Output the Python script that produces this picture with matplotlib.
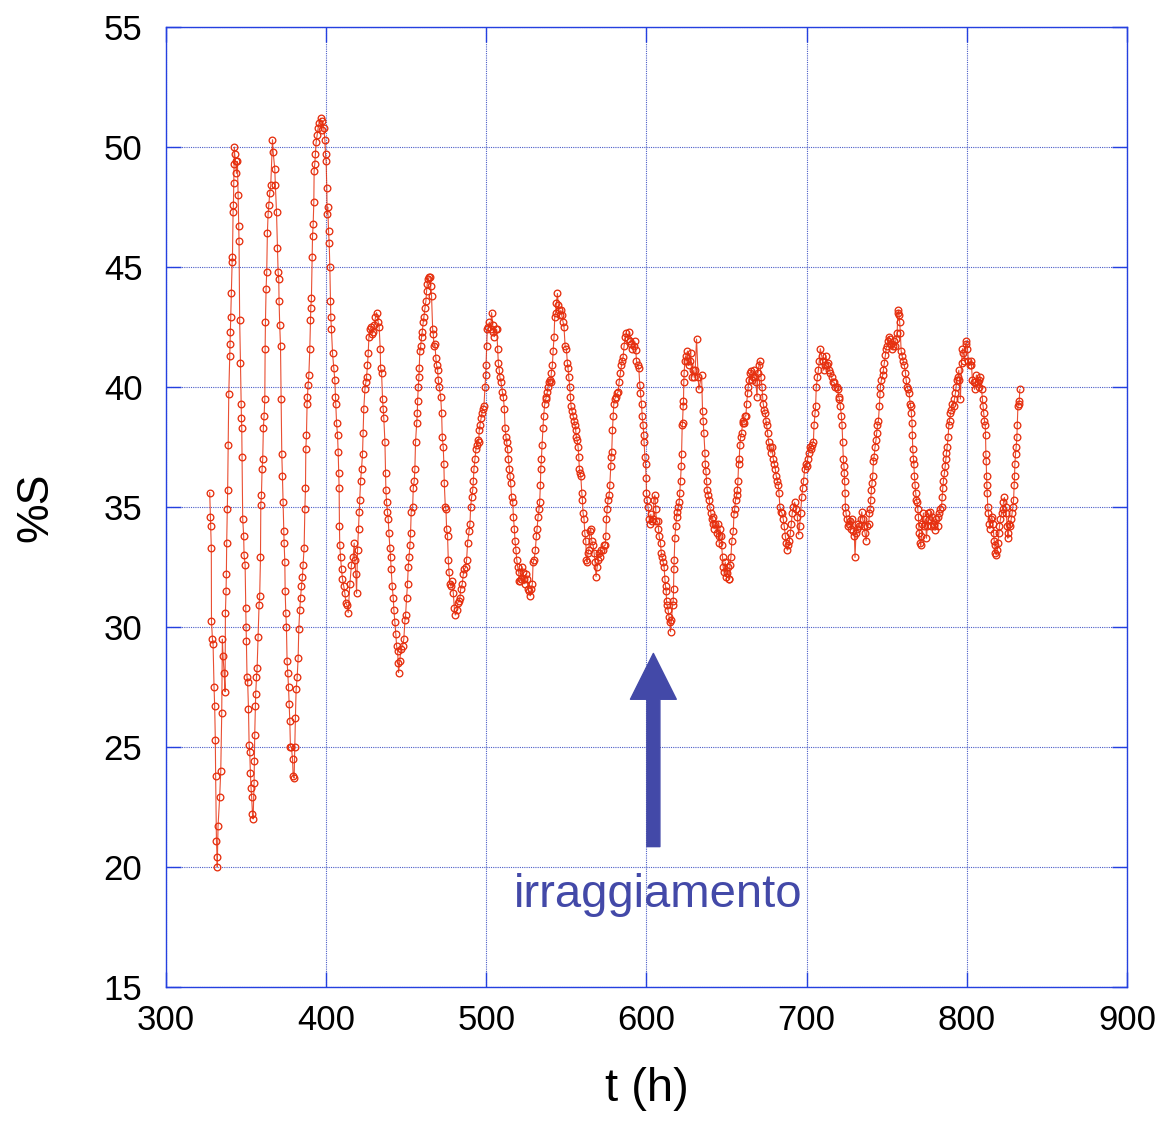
import matplotlib
matplotlib.use("Agg")
import matplotlib.pyplot as plt
import numpy as np

plt.rcParams["font.family"] = ["Liberation Sans", "DejaVu Sans"]

# %S readings over time, one oscillation at a time
t_327 = [327.3, 327.7, 327.9, 328.3, 328.4, 329.0, 329.4, 330.0, 330.4, 330.8, 331.0, 331.5, 331.9, 332.0,
         332.5, 333.5, 334.2, 334.8, 335.2, 335.6, 336.3, 336.9, 337.1, 337.5, 337.7, 337.9, 338.3, 338.5,
         338.8, 339.2, 339.8, 340.0, 340.2, 340.4, 340.8, 341.3, 341.5, 341.9, 342.1, 342.3, 342.5, 342.7,
         342.9, 343.5, 344.0, 344.6, 345.0, 345.4, 345.6, 346.0, 346.5, 346.9, 347.1, 347.3, 347.5, 347.9,
         348.5, 348.75, 349.4, 349.8, 350.0, 350.2, 350.6, 351.0, 351.5, 351.9, 352.3, 352.7, 353.1, 353.5,
         354.0, 354.4]
s_327 = [35.6, 34.6, 34.2, 33.3, 30.25, 29.5, 29.3, 27.5, 26.7, 25.3, 23.8, 21.1, 20.4, 20.0,
         21.7, 22.9, 24.0, 26.4, 29.5, 28.8, 28.1, 27.3, 30.6, 31.5, 32.2, 33.5, 34.9, 35.7,
         37.6, 39.7, 41.3, 41.8, 42.3, 42.9, 43.9, 45.2, 45.4, 47.3, 47.6, 48.5, 49.3, 50.0,
         49.7, 49.4, 48.9, 49.4, 48.0, 46.7, 46.1, 42.8, 41.0, 39.3, 38.7, 38.3, 37.1, 34.5,
         33.8, 33.0, 32.6, 30.8, 30.0, 29.4, 27.9, 27.7, 26.6, 25.1, 24.8, 23.9, 23.3, 22.9,
         22.2, 22.0]

t_355 = [355.0, 355.2, 355.4, 355.8, 356.0, 356.5, 356.9, 357.5, 358.1, 358.5, 359.0, 359.2, 359.6, 360.0,
         360.4, 360.8, 361.25, 361.7, 361.9, 362.1, 362.5, 362.9, 363.3, 363.75, 364.2, 364.8, 365.4, 366.5,
         366.9, 367.9, 368.3, 369.0, 369.6, 370.0, 370.4, 370.6, 371.0, 371.5, 371.9, 372.3, 372.7, 373.1,
         373.5, 373.75, 374.2, 374.4, 374.8, 375.2, 375.6, 376.0, 376.5, 376.9, 377.3, 377.7, 378.3, 379.0,
         379.4, 380.0]
s_355 = [23.5, 24.4, 25.5, 26.7, 27.2, 27.9, 28.3, 29.6, 30.9, 31.3, 32.9, 35.1, 35.5, 36.6,
         37.0, 38.3, 38.8, 39.5, 41.6, 42.7, 44.1, 44.8, 46.4, 47.2, 47.6, 48.1, 48.4, 50.3,
         49.8, 49.1, 48.4, 47.3, 45.8, 44.8, 44.5, 43.6, 42.6, 41.7, 39.5, 37.2, 36.3, 35.2,
         34.0, 33.5, 32.7, 31.5, 30.6, 30.0, 28.6, 28.1, 27.5, 26.8, 26.1, 25.0, 25.0, 24.5,
         23.8, 23.7]

t_380 = [380.4, 380.8, 381.25, 381.9, 382.5, 382.9, 383.5, 384.0, 384.6, 385.2, 385.6, 386.25, 386.7, 387.1,
         387.3, 387.7, 388.1, 388.3, 388.75, 389.2, 389.8, 390.2, 390.4, 390.8, 391.25, 391.5, 391.9, 392.3,
         392.5, 392.9, 393.3, 393.75, 394.4, 395.0, 395.6, 396.5, 397.1, 397.7, 398.5, 399.2, 399.6, 400.0,
         400.4, 400.6, 401.0, 401.5, 401.9]
s_380 = [25.0, 26.2, 27.4, 27.9, 28.7, 29.9, 30.7, 31.2, 31.7, 32.1, 32.6, 33.3, 34.9, 35.8,
         37.4, 38.0, 39.3, 39.6, 40.1, 40.5, 41.6, 42.8, 43.3, 43.7, 45.4, 46.3, 46.8, 47.7,
         49.0, 49.3, 49.7, 50.2, 50.5, 50.8, 51.0, 51.2, 50.7, 51.1, 50.8, 50.3, 49.7, 49.4,
         48.3, 47.2, 47.5, 46.5, 46.0]

t_402 = [402.3, 402.7, 402.9, 403.3, 404.0, 404.8, 405.4, 405.8, 406.0, 406.5, 407.1, 407.5, 407.9, 408.1,
         408.3, 408.5, 409.0, 409.6, 410.2, 411.0, 411.7, 412.3, 413.1, 413.75, 414.8, 415.8, 416.9, 417.5,
         417.9, 418.5, 419.0, 419.6, 420.2, 420.6, 421.0, 421.5, 422.1, 422.7, 423.1, 423.5, 424.2, 424.8,
         425.2, 425.8, 426.25, 426.7, 427.3, 427.9, 428.75, 429.4, 430.0, 430.8, 431.5]
s_402 = [45.0, 43.6, 42.9, 42.4, 41.4, 40.8, 40.3, 39.6, 39.3, 38.5, 38.0, 37.3, 36.4, 35.8,
         34.2, 33.4, 32.9, 32.4, 32.0, 31.7, 31.4, 31.0, 30.9, 30.6, 31.8, 32.6, 32.9, 33.5,
         32.8, 32.2, 31.4, 33.2, 34.1, 34.8, 35.3, 36.1, 36.6, 37.2, 38.1, 39.1, 39.9, 40.2,
         40.4, 40.9, 41.4, 42.1, 42.4, 42.5, 42.2, 42.3, 42.6, 42.9, 43.1]

t_432 = [432.5, 433.1, 433.75, 434.0, 434.6, 435.2, 435.6, 436.0, 436.7, 437.1, 437.3, 437.7, 438.3, 438.75,
         439.2, 439.8, 440.2, 440.6, 441.25, 441.9, 442.3, 442.9, 443.5, 444.0, 444.6, 445.0, 445.2, 446.0,
         446.7, 447.7, 448.5, 449.2, 449.6, 450.2, 450.8, 451.25, 451.7, 452.3, 452.7, 453.1, 454.0, 454.4,
         455.0, 455.4, 455.8, 456.5, 456.9, 457.1, 457.5, 457.9, 458.1, 458.5, 459.0, 459.6, 460.0, 460.6,
         461.0, 461.7, 462.3, 462.7, 463.1, 463.75, 464.4, 465.0]
s_432 = [42.7, 42.5, 41.6, 40.8, 40.6, 39.5, 39.1, 38.7, 37.7, 36.4, 35.7, 35.2, 34.8, 34.5,
         33.9, 33.3, 32.9, 32.4, 31.7, 31.2, 30.7, 30.2, 29.7, 29.2, 29.0, 28.5, 28.1, 28.6,
         29.1, 29.2, 29.5, 30.3, 30.5, 31.2, 31.8, 32.5, 32.9, 33.4, 33.9, 34.8, 35.0, 35.8,
         36.1, 36.6, 37.7, 38.5, 38.9, 39.4, 40.0, 40.4, 40.8, 41.5, 41.7, 42.1, 42.3, 42.7,
         42.9, 43.3, 43.6, 44.0, 44.3, 44.5, 44.6, 44.6]

t_465 = [465.2, 465.8, 466.5, 466.9, 467.3, 467.9, 468.5, 469.0, 469.6, 470.0, 470.6, 471.5, 472.1, 472.5,
         473.1, 473.5, 473.75, 474.4, 474.8, 475.2, 475.8, 476.25, 476.7, 477.3, 477.9, 478.75, 479.4, 480.0,
         480.6, 481.5, 482.1, 482.9, 483.5, 484.0, 485.0, 485.6, 486.25, 487.1, 487.7, 488.3, 489.2, 489.8,
         490.2, 490.8, 491.5, 491.9, 492.3, 492.9, 493.5, 494.0, 494.6, 495.2, 495.6, 496.0, 496.7, 497.1,
         497.7, 498.5, 499.2, 499.6, 499.8, 500.2, 500.6, 501.25, 501.9, 502.7, 503.3, 504.0, 504.4, 505.0,
         505.8, 506.5, 507.1, 507.5, 508.1]
s_465 = [44.2, 43.8, 42.4, 42.2, 41.7, 41.8, 41.2, 40.9, 40.7, 40.3, 40.0, 39.6, 38.9, 37.9,
         37.5, 36.8, 36.0, 35.0, 34.9, 34.1, 33.8, 32.8, 32.3, 31.8, 31.7, 31.9, 31.4, 30.8,
         30.5, 30.7, 31.0, 31.1, 31.2, 31.6, 31.8, 32.2, 32.4, 32.5, 32.8, 33.5, 34.0, 34.3,
         35.0, 35.4, 35.7, 36.1, 36.6, 37.0, 37.4, 37.6, 37.8, 37.7, 38.2, 38.4, 38.7, 38.9,
         39.1, 39.2, 40.0, 40.5, 40.9, 41.7, 42.4, 42.5, 42.7, 42.4, 43.1, 42.6, 42.3, 42.1,
         42.4, 42.4, 41.6, 41.0, 40.7]

t_508 = [508.5, 509.2, 510.0, 510.6, 511.25, 511.7, 512.3, 512.7, 513.3, 513.75, 514.4, 514.8, 515.2, 515.8,
         516.5, 516.9, 517.5, 517.9, 518.5, 519.0, 519.6, 520.2, 520.6]
s_508 = [40.4, 40.2, 39.8, 39.6, 39.1, 38.3, 37.9, 37.7, 37.4, 37.0, 36.6, 36.3, 36.0, 35.4,
         35.2, 34.6, 34.1, 33.6, 33.2, 32.8, 32.5, 32.3, 31.9]

t_521 = [520.8, 521.5, 522.3, 522.9, 523.3, 524.0, 524.6, 525.4, 526.0, 526.7, 527.5, 528.1, 528.75, 529.2,
         529.8, 530.6, 531.25, 531.7, 532.3, 532.9, 533.3, 533.75, 534.0, 534.4, 534.8, 535.4, 535.8, 536.5,
         537.1, 537.5, 538.1, 538.5, 539.2, 539.6, 540.2, 540.6, 541.25, 541.7, 542.3, 542.7, 543.3, 543.75,
         544.4]
s_521 = [31.9, 32.0, 32.5, 32.3, 32.0, 31.8, 32.2, 32.0, 31.6, 31.5, 31.3, 31.6, 31.8, 32.7,
         32.8, 33.2, 33.8, 34.1, 34.6, 34.9, 35.2, 35.9, 36.6, 37.0, 37.6, 38.3, 38.8, 39.3,
         39.5, 39.6, 39.8, 40.0, 40.2, 40.3, 40.2, 40.6, 40.9, 41.5, 42.1, 42.9, 43.1, 43.5,
         43.9]

t_545 = [545.0, 545.4, 545.8, 546.5, 547.1, 547.9, 548.5, 549.2, 550.0, 550.6, 551.0, 551.5, 552.1, 552.5,
         552.9, 553.5, 554.2, 554.8, 555.4, 555.8, 556.25, 556.7, 557.3, 557.7, 558.1, 558.5, 559.0, 559.6,
         560.0, 560.4, 561.0, 561.5, 562.1, 562.5, 562.9, 563.5, 564.0, 564.6, 565.2, 565.8, 566.7, 567.3,
         567.9, 568.5, 569.2, 569.8, 570.4, 571.25, 571.9, 572.9, 573.5, 574.2, 574.6, 575.0, 575.4, 576.0,
         576.7, 577.1, 577.7, 577.9, 578.3, 578.75, 579.2, 579.6, 580.2, 580.8, 581.7, 582.3, 582.9, 583.75,
         584.4, 584.8, 585.4, 586.0, 586.7, 587.5]
s_545 = [43.4, 43.2, 43.0, 43.2, 43.0, 42.7, 42.5, 41.7, 41.6, 41.0, 40.8, 40.4, 40.0, 39.6,
         39.2, 39.0, 38.8, 38.6, 38.4, 38.2, 37.9, 37.8, 37.5, 37.1, 36.6, 36.4, 36.3, 35.6,
         35.3, 34.75, 34.5, 33.9, 33.6, 32.8, 32.7, 33.1, 33.2, 34.0, 34.1, 33.6, 33.4, 33.1,
         32.7, 32.1, 32.5, 32.8, 33.1, 32.9, 33.2, 33.2, 33.4, 33.4, 33.8, 34.5, 34.9, 35.3,
         35.5, 35.9, 36.7, 37.1, 37.3, 38.2, 38.8, 39.3, 39.5, 39.6, 39.75, 39.8, 40.2, 40.6,
         40.9, 41.1, 41.25, 41.7, 42.1, 42.25]

t_588 = [588.3, 589.2, 590.0, 590.6, 591.25, 592.1, 592.7, 593.3, 593.75, 594.4, 595.2, 595.8, 596.25, 596.9,
         597.3, 597.9, 598.3, 598.5, 599.0, 599.4, 599.8, 600.0, 600.4, 601.0, 601.7, 602.1, 602.7, 603.3,
         604.2, 604.6, 605.2, 605.8, 606.25, 606.9, 607.5, 607.9, 608.75, 609.2, 609.8, 610.4, 611.0, 611.5,
         611.9, 612.3, 612.5, 612.9, 613.5, 614.2, 614.6, 615.0]
s_588 = [42.0, 42.3, 41.9, 41.8, 41.6, 41.7, 41.9, 41.55, 41.1, 40.9, 40.8, 40.1, 39.75, 39.3,
         38.8, 38.4, 38.0, 37.7, 37.1, 36.8, 36.2, 35.6, 35.3, 35.0, 34.5, 34.3, 34.7, 34.4,
         34.5, 35.3, 35.5, 34.9, 34.4, 34.4, 34.1, 33.8, 33.5, 33.1, 32.9, 32.7, 32.5, 32.0,
         31.7, 31.5, 31.1, 30.9, 30.7, 30.4, 30.2, 29.8]

t_616 = [615.6, 616.25, 616.7, 616.9, 617.1, 617.3, 617.7, 618.3, 618.75, 619.2, 619.8, 620.4, 620.8, 621.25,
         621.7, 621.9, 622.3, 622.5, 622.9, 623.1, 623.3, 623.5, 624.0, 624.4, 625.0, 625.6, 626.25, 627.1,
         627.7, 628.3, 629.2, 629.8, 630.4, 631.25, 632.3, 632.7]
s_616 = [30.3, 30.9, 31.1, 31.6, 32.4, 32.8, 33.7, 34.2, 34.6, 34.8, 35.0, 35.2, 35.6, 36.1,
         36.7, 37.2, 38.4, 38.5, 39.2, 39.4, 40.2, 40.6, 41.1, 41.3, 41.1, 41.5, 40.9, 41.1,
         41.4, 40.4, 40.7, 40.4, 40.7, 42.0, 40.4, 39.9]

t_634 = [634.4, 635.0, 635.4, 635.8, 636.5, 636.7, 637.1, 637.5, 637.9, 638.5, 639.2, 639.6, 640.2, 640.6,
         641.25, 641.7, 642.3, 642.9, 643.75, 644.4, 645.0, 645.4, 645.8, 646.5, 646.9, 647.5, 647.9, 648.5,
         649.2, 649.6, 650.0, 650.6, 651.25, 651.7]
s_634 = [40.5, 39.0, 38.6, 38.1, 37.25, 36.8, 36.5, 36.1, 35.7, 35.5, 35.3, 35.0, 34.75, 34.5,
         34.6, 34.3, 34.1, 34.3, 33.9, 34.3, 33.8, 33.5, 34.1, 33.8, 33.4, 32.9, 32.5, 32.3,
         32.7, 32.1, 32.25, 32.5, 32.0, 32.0]

t_652 = [652.1, 652.7, 653.3, 654.2, 654.6, 655.0, 655.6, 656.25, 656.7, 657.1, 657.5, 657.9, 658.3, 658.75,
         659.4, 660.0, 660.4, 661.0, 661.5, 662.1, 662.5, 663.1, 663.5, 664.0, 664.6, 665.2, 665.8, 666.5,
         667.1, 667.7, 668.3, 669.0, 669.6, 670.2, 670.8]
s_652 = [32.6, 32.9, 33.6, 34.0, 34.7, 34.9, 35.3, 35.5, 35.7, 36.1, 36.8, 37.0, 37.6, 37.9,
         38.1, 38.5, 38.6, 38.5, 38.8, 38.8, 39.3, 39.75, 40.0, 40.3, 40.6, 40.65, 40.3, 40.4,
         40.7, 40.4, 40.2, 39.6, 40.6, 40.9, 41.1]

t_671 = [671.5, 672.1, 672.5, 672.9, 673.5, 674.2, 674.6, 675.0, 675.6, 676.25, 677.1, 677.7, 678.3, 679.2,
         679.8, 680.4, 681.0, 681.7, 682.3, 682.7, 683.3, 684.0, 684.6, 685.4, 686.0, 686.7, 687.3, 687.9,
         688.5, 689.2, 689.8, 690.4, 691.0, 691.7, 692.5, 693.3, 694.2, 695.0, 695.6, 696.25, 696.9, 697.5,
         698.1, 698.75, 699.4, 700.0, 700.6, 701.25, 702.1, 702.7, 703.3, 704.2, 704.6, 705.2, 705.6, 706.0,
         706.7, 707.3, 707.9, 708.5]
s_671 = [40.4, 40.0, 39.6, 39.3, 39.05, 38.9, 38.6, 38.4, 38.1, 37.7, 37.5, 37.25, 37.5, 37.0,
         36.8, 36.6, 36.3, 36.1, 35.9, 35.6, 35.0, 34.8, 34.75, 34.5, 34.2, 33.8, 33.5, 33.2,
         33.4, 33.6, 33.9, 34.3, 34.75, 35.0, 35.2, 34.9, 34.6, 33.85, 34.2, 34.75, 35.4, 35.8,
         36.1, 36.6, 36.8, 36.7, 37.0, 37.25, 37.5, 37.4, 37.6, 37.7, 38.4, 38.9, 39.2, 40.0,
         40.4, 40.7, 41.1, 41.6]

t_709 = [709.4, 710.0, 710.6, 711.5, 712.1, 712.7, 713.5, 714.2, 714.8, 715.6, 716.25, 717.1, 717.9, 718.75,
         719.4, 720.0, 720.4, 721.0, 721.7, 722.1, 722.5, 722.9, 723.3, 723.5, 723.75, 724.0, 724.2, 724.6,
         725.0, 725.6, 726.25, 727.1, 727.7, 728.3, 729.2, 729.8, 730.2, 730.8, 731.5, 732.3, 732.9, 733.75,
         734.4, 735.0, 735.8, 736.5, 737.1, 737.9, 738.75, 739.2, 739.6, 740.0, 740.4, 740.8, 741.25, 741.7,
         742.1, 742.7, 743.3, 743.75, 744.2, 744.8, 745.4, 745.8]
s_709 = [41.3, 41.1, 40.7, 40.9, 41.3, 40.9, 41.0, 40.7, 40.6, 40.4, 40.2, 40.2, 40.0, 40.0,
         39.9, 39.6, 39.5, 39.2, 38.8, 38.4, 37.7, 37.0, 36.7, 36.4, 36.1, 35.6, 35.0, 34.75,
         34.5, 34.2, 34.3, 34.4, 34.1, 34.5, 34.0, 33.8, 32.9, 33.9, 34.1, 34.3, 34.2, 34.5,
         34.8, 34.5, 34.2, 33.9, 33.6, 34.2, 34.3, 34.75, 34.9, 35.3, 35.7, 36.0, 36.3, 36.9,
         37.1, 37.5, 37.8, 38.1, 38.4, 38.6, 39.2, 39.7]

t_746 = [746.0, 746.7, 747.5, 747.9, 748.5, 749.2, 749.6, 750.2, 750.8, 751.5, 752.1, 752.7, 753.3, 754.0,
         754.6, 755.2, 755.8, 756.5, 756.9, 757.3, 757.7, 758.1, 758.5, 759.0, 759.6, 760.2, 761.0, 761.7,
         762.1, 762.7, 763.3, 764.0, 764.6, 765.0, 765.4, 765.8, 766.0, 766.25, 766.7, 766.9, 767.3, 767.7,
         768.1, 768.5, 769.0, 769.4, 769.8, 770.0, 770.4, 770.8, 771.25, 771.7, 772.3, 772.9, 773.5, 774.2,
         774.8, 775.4, 776.0, 776.7, 777.3, 777.9, 778.5, 779.2, 779.8, 780.4, 781.0, 781.7, 782.3, 782.9,
         783.5, 784.2, 784.6, 785.0]
s_746 = [40.0, 40.3, 40.5, 40.7, 41.0, 41.35, 41.6, 41.7, 41.9, 42.1, 42.0, 41.8, 41.6, 41.7,
         41.9, 41.7, 42.0, 42.25, 43.1, 43.2, 43.0, 42.7, 42.25, 41.5, 41.3, 41.1, 40.9, 40.6,
         40.3, 40.0, 39.9, 39.75, 39.3, 39.2, 38.9, 38.5, 38.0, 37.4, 37.0, 36.8, 36.3, 35.9,
         35.6, 35.3, 35.2, 34.9, 34.6, 34.2, 33.9, 33.5, 33.4, 33.8, 34.3, 34.75, 34.2, 34.5,
         33.7, 34.2, 34.75, 34.5, 34.8, 34.2, 34.6, 34.2, 34.3, 34.05, 34.5, 34.2, 34.6, 34.75,
         34.9, 35.0, 35.4, 35.8]

t_785 = [785.4, 786.0, 786.5, 786.9, 787.3, 787.7, 788.3, 788.75, 789.2, 789.8, 790.4, 791.0, 791.7, 792.3,
         792.9, 793.3, 793.75, 794.4, 795.0, 795.4, 796.0, 796.7, 797.3, 797.9, 798.5, 799.2, 799.8, 800.4,
         801.0, 801.7, 802.3, 802.9, 803.5, 804.2, 804.8, 805.4, 806.0, 806.7, 807.3, 807.9, 808.5, 809.2,
         809.8, 810.2, 810.6, 811.0, 811.5, 811.7, 811.9, 812.1, 812.3, 812.5, 812.7, 813.1, 813.5, 814.0,
         814.4, 815.0, 815.6, 816.25, 816.7, 817.1, 817.5, 817.9, 818.3]
s_785 = [36.1, 36.4, 36.7, 37.0, 37.25, 37.5, 37.9, 38.4, 38.6, 38.9, 39.05, 39.3, 39.2, 39.5,
         39.75, 40.0, 40.3, 40.4, 40.7, 40.3, 39.5, 41.0, 41.6, 41.4, 41.1, 41.8, 41.9, 41.6,
         41.1, 40.9, 41.1, 40.9, 40.3, 40.2, 39.9, 40.2, 40.5, 40.2, 40.3, 40.0, 40.4, 39.9,
         39.5, 39.2, 38.9, 38.6, 38.4, 38.0, 37.2, 36.9, 36.3, 35.9, 35.6, 35.0, 34.75, 34.3,
         34.1, 34.5, 34.6, 34.3, 33.9, 33.6, 33.4, 33.1, 33.0]

t_819 = [819.0, 819.4, 820.0, 820.4, 821.0, 821.7, 822.3, 822.9, 823.5, 824.2, 824.6, 825.2, 825.6, 826.0,
         826.5, 827.1, 827.7, 828.3, 828.75, 829.2, 829.6, 829.8, 830.0, 830.4, 830.8, 831.25, 831.5, 831.9,
         832.3, 832.7, 833.1]
s_819 = [33.2, 33.5, 33.9, 34.2, 34.5, 34.75, 34.9, 35.2, 35.4, 35.0, 34.75, 34.2, 33.7, 33.9,
         34.3, 34.2, 34.5, 34.75, 35.0, 35.3, 35.9, 36.3, 36.8, 37.2, 37.5, 37.9, 38.4, 39.2,
         39.3, 39.4, 39.9]

x_ticks = [300, 400, 500, 600, 700, 800, 900]
y_ticks = [15, 20, 25, 30, 35, 40, 45, 50, 55]

t_all = np.concatenate([t_327, t_355, t_380, t_402, t_432, t_465, t_508, t_521, t_545,
                        t_588, t_616, t_634, t_652, t_671, t_709, t_746, t_785, t_819])
s_all = np.concatenate([s_327, s_355, s_380, s_402, s_432, s_465, s_508, s_521, s_545,
                        s_588, s_616, s_634, s_652, s_671, s_709, s_746, s_785, s_819])

frame_blue = "#2440e0"
grid_blue = "#4a5cc8"
arrow_blue = "#4349a8"
red = "#e6300f"

fig = plt.figure(figsize=(11.64, 11.22), dpi=100)
ax = fig.add_axes([0.1426, 0.1203, 0.8256, 0.8556])

ax.plot(t_all, s_all, color=red, lw=0.8, alpha=0.85, zorder=3)
ax.plot(t_all, s_all, ls="none", marker="o", ms=4.8, mfc="none",
        mec=red, mew=0.95, zorder=4)

ax.set_xlim(300, 900)
ax.set_ylim(15, 55)
ax.set_xticks(x_ticks)
ax.set_yticks(y_ticks)
ax.grid(True, color=grid_blue, lw=0.8, ls=(0, (1, 1)), zorder=1)
for sp in ax.spines.values():
    sp.set_color(frame_blue)
    sp.set_linewidth(1.0)
ax.tick_params(axis="both", direction="in", length=11, width=1.0,
               color=frame_blue, labelsize=25, top=True, right=True)
ax.tick_params(axis="x", pad=12)
ax.tick_params(axis="y", pad=17)

ax.set_xlabel("t (h)", fontsize=34, labelpad=22)
ax.set_ylabel("%S", fontsize=32, labelpad=34)

# irradiation marker
ax.annotate("", xy=(604.3, 28.9), xytext=(604.3, 20.85),
            arrowprops=dict(width=9.4, headwidth=33, headlength=33,
                            color=arrow_blue, shrink=0), zorder=5)
ax.text(607, 18.35, "irraggiamento", color=arrow_blue, fontsize=34,
        ha="center", va="baseline", zorder=5)

fig.savefig("out.png", dpi=100)
